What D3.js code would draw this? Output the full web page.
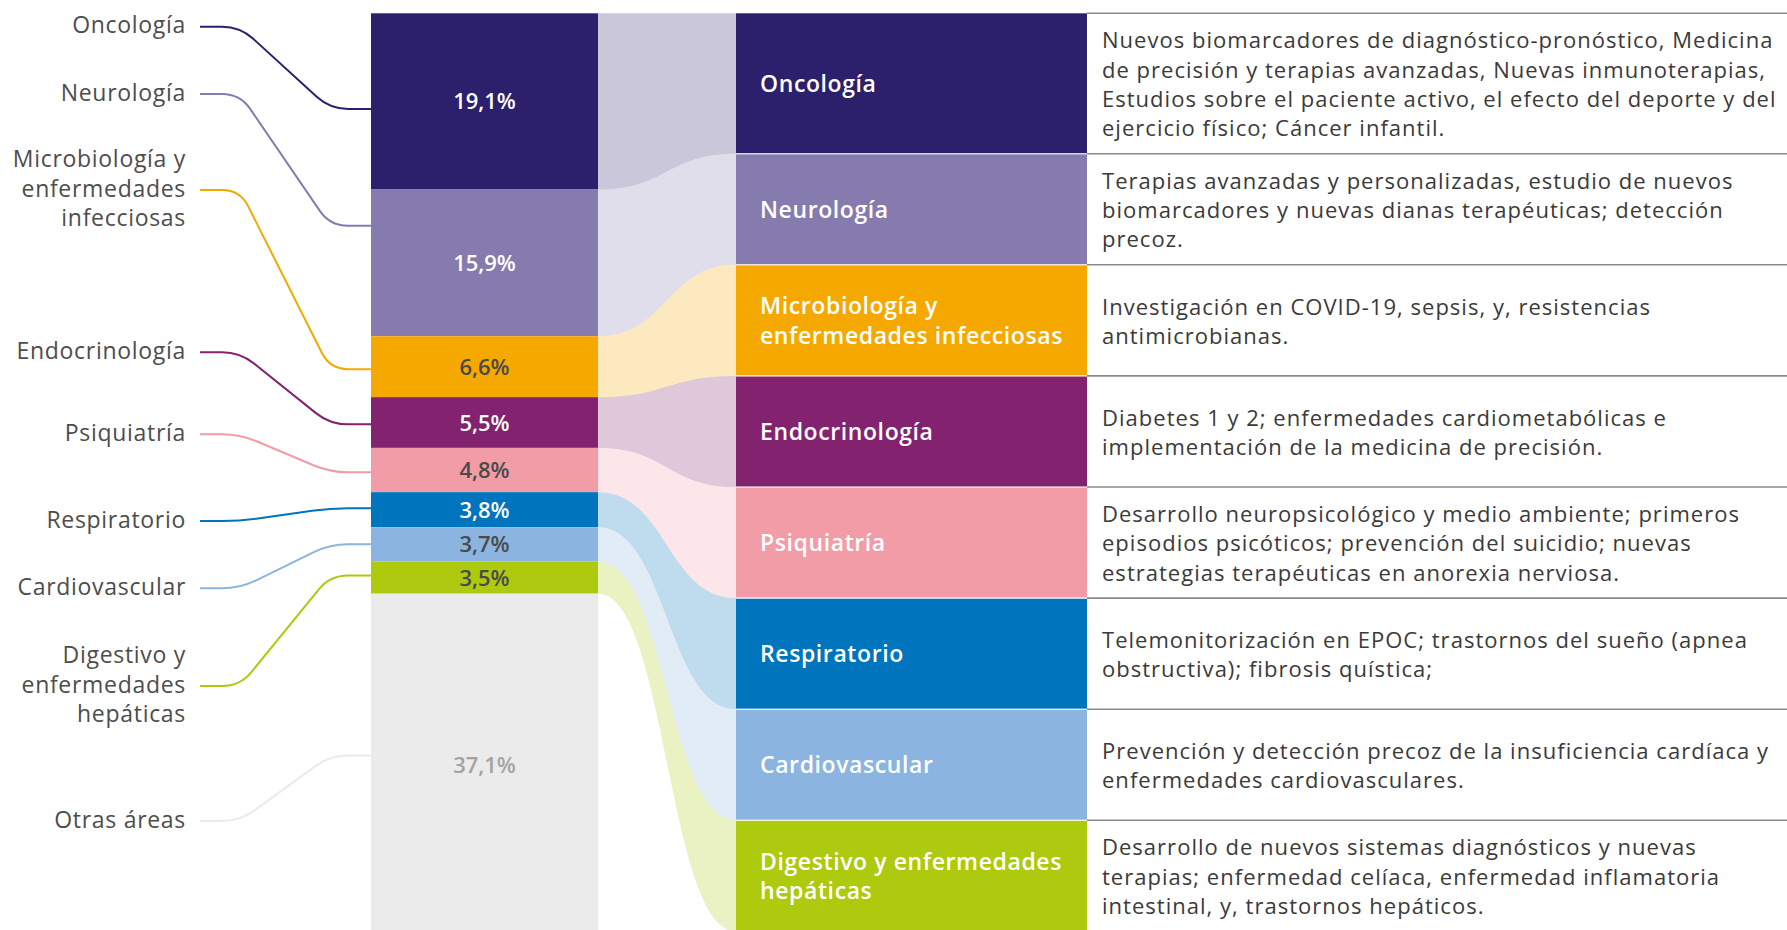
<!DOCTYPE html>
<html><head><meta charset="utf-8">
<script src="https://cdn.jsdelivr.net/npm/d3@7"></script>
<style>
body{margin:0;background:#fff;overflow:hidden;}
svg{display:block;font-family:"Open Sans","Noto Sans",sans-serif;}
</style>
</head><body>
<svg id="chart" width="1787" height="930"></svg>
<script>
// ---------- DATA ----------
const categories = ["Oncología","Neurología","Microbiología y enfermedades infecciosas","Endocrinología","Psiquiatría","Respiratorio","Cardiovascular","Digestivo y enfermedades hepáticas","Otras áreas"];
const shares = [19.1, 15.9, 6.6, 5.5, 4.8, 3.8, 3.7, 3.5, 37.1];
const shareLabels = ["19,1%","15,9%","6,6%","5,5%","4,8%","3,8%","3,7%","3,5%","37,1%"];
const colors = ["#2c1f6c","#867bae","#f5a800","#83226f","#f29ca8","#0074bc","#8bb4e1","#adca0e","#ebebeb"];
const shareLabelColors = ["#ffffff","#ffffff","#4a4a4a","#ffffff","#4a4a4a","#ffffff","#4a4a4a","#4a4a4a","#a3a3a3"];
const leftLabelLines = [["Oncología"],["Neurología"],["Microbiología y","enfermedades","infecciosas"],["Endocrinología"],["Psiquiatría"],["Respiratorio"],["Cardiovascular"],["Digestivo y","enfermedades","hepáticas"],["Otras áreas"]];
const boxLabelLines = [["Oncología"],["Neurología"],["Microbiología y","enfermedades infecciosas"],["Endocrinología"],["Psiquiatría"],["Respiratorio"],["Cardiovascular"],["Digestivo y enfermedades","hepáticas"]];
const descriptions = [
  ["Nuevos biomarcadores de diagnóstico-pronóstico, Medicina","de precisión y terapias avanzadas, Nuevas inmunoterapias,","Estudios sobre el paciente activo, el efecto del deporte y del","ejercicio físico; Cáncer infantil."],
  ["Terapias avanzadas y personalizadas, estudio de nuevos","biomarcadores y nuevas dianas terapéuticas; detección","precoz."],
  ["Investigación en COVID-19, sepsis, y, resistencias","antimicrobianas."],
  ["Diabetes 1 y 2; enfermedades cardiometabólicas e","implementación de la medicina de precisión."],
  ["Desarrollo neuropsicológico y medio ambiente; primeros","episodios psicóticos; prevención del suicidio; nuevas","estrategias terapéuticas en anorexia nerviosa."],
  ["Telemonitorización en EPOC; trastornos del sueño (apnea","obstructiva); fibrosis quística;"],
  ["Prevención y detección precoz de la insuficiencia cardíaca y","enfermedades cardiovasculares."],
  ["Desarrollo de nuevos sistemas diagnósticos y nuevas","terapias; enfermedad celíaca, enfermedad inflamatoria","intestinal, y, trastornos hepáticos."]
];

// ---------- LAYOUT ----------
const top0 = 13.3;
const barX0 = 371, barX1 = 598, boxX0 = 736, boxX1 = 1087, descX = 1102, W = 1787;
const leftLabelY = [26.7, 94, 190, 352.3, 434.3, 521, 588.3, 686, 821];
const anchorFrac = [0.543, 0.247, 0.54, 0.536, 0.55, 0.46, 0.5, 0.44, 0.473];
const lineH = 29.3, boxPad = 23.2;

const svg = d3.select("#chart");
const y = d3.scaleLinear().domain([0, 100]).range([top0, top0 + 922.7]);
const cum = [0, ...d3.cumsum(shares)];
const segs = shares.map((v, i) => ({i, v, y0: y(cum[i]), y1: y(cum[i + 1])}));

// right boxes
const boxH = descriptions.map(d => Math.max(d.length, 3) * lineH + boxPad);
const boxCum = [0, ...d3.cumsum(boxH)];
const boxes = boxH.map((h, i) => ({i, y0: top0 + boxCum[i], y1: top0 + boxCum[i + 1]}));

// flows
const xm = (barX1 + boxX0) / 2;
svg.append("g").selectAll("path").data(boxes).join("path")
  .attr("fill", d => colors[d.i]).attr("fill-opacity", 0.25)
  .attr("d", d => {
    const s = segs[d.i];
    return `M${barX1},${s.y0}C${xm},${s.y0} ${xm},${d.y0} ${boxX0},${d.y0}` +
      `L${boxX0},${d.y1}C${xm},${d.y1} ${xm},${s.y1} ${barX1},${s.y1}Z`;
  });

// left stacked bar
svg.append("g").selectAll("rect").data(segs).join("rect")
  .attr("x", barX0).attr("width", barX1 - barX0)
  .attr("y", d => d.y0).attr("height", d => d.y1 - d.y0)
  .attr("fill", d => colors[d.i]);

svg.append("g").selectAll("text").data(segs).join("text")
  .attr("x", (barX0 + barX1) / 2).attr("y", d => (d.y0 + d.y1) / 2 + 8)
  .attr("text-anchor", "middle").attr("font-size", 22).attr("font-weight", 600)
  .attr("fill", d => shareLabelColors[d.i])
  .text(d => shareLabels[d.i]);

// leader lines
function leader(y1, y2) {
  const pts = [[200, y1], [240, y1], [330, y2], [barX0, y2]];
  let d = `M${pts[0][0]},${pts[0][1]}`;
  for (let k = 1; k <= 2; k++) {
    const P = pts[k], A = pts[k - 1], B = pts[k + 1];
    const l1 = Math.hypot(P[0] - A[0], P[1] - A[1]), l2 = Math.hypot(B[0] - P[0], B[1] - P[1]);
    const r = Math.min(18, l1 / 2, l2 / 2);
    const s = [P[0] - (P[0] - A[0]) / l1 * r, P[1] - (P[1] - A[1]) / l1 * r];
    const e = [P[0] + (B[0] - P[0]) / l2 * r, P[1] + (B[1] - P[1]) / l2 * r];
    d += `L${s[0]},${s[1]}Q${P[0]},${P[1]} ${e[0]},${e[1]}`;
  }
  return d + `L${pts[3][0]},${pts[3][1]}`;
}
svg.append("g").selectAll("path").data(segs).join("path")
  .attr("fill", "none").attr("stroke", d => colors[d.i]).attr("stroke-width", 2)
  .attr("d", d => leader(leftLabelY[d.i], d.y0 + anchorFrac[d.i] * (d.y1 - d.y0)));

// left labels
svg.append("g").selectAll("text").data(segs).join("text")
  .attr("text-anchor", "end").attr("font-size", 23).attr("letter-spacing", 0.7).attr("fill", "#4d4d4d")
  .each(function(d) {
    const lines = leftLabelLines[d.i], n = lines.length;
    d3.select(this).selectAll("tspan").data(lines).join("tspan")
      .attr("x", 186)
      .attr("y", (t, k) => leftLabelY[d.i] + (k - (n - 1) / 2) * lineH + 6.5)
      .text(t => t);
  });

// boxes
svg.append("g").selectAll("rect").data(boxes).join("rect")
  .attr("x", boxX0).attr("width", boxX1 - boxX0)
  .attr("y", d => d.y0).attr("height", d => d.y1 - d.y0)
  .attr("fill", d => colors[d.i]);

// separators
const sep = svg.append("g");
sep.selectAll("line.d").data(boxes).join("line").attr("class", "d")
  .attr("x1", boxX1).attr("x2", W).attr("y1", d => d.y0).attr("y2", d => d.y0)
  .attr("stroke", "#8a8a8a").attr("stroke-width", 1.6);
sep.selectAll("line.b").data(boxes.slice(1)).join("line").attr("class", "b")
  .attr("x1", boxX0).attr("x2", boxX1).attr("y1", d => d.y0).attr("y2", d => d.y0)
  .attr("stroke", "#ffffff").attr("stroke-opacity", 0.7).attr("stroke-width", 1.6);

// box labels
svg.append("g").selectAll("text").data(boxes).join("text")
  .attr("font-size", 23).attr("font-weight", 600).attr("letter-spacing", 0.6).attr("fill", "#ffffff")
  .each(function(d) {
    const lines = boxLabelLines[d.i], n = lines.length, c = (d.y0 + d.y1) / 2;
    d3.select(this).selectAll("tspan").data(lines).join("tspan")
      .attr("x", 760).attr("y", (t, k) => c + (k - (n - 1) / 2) * lineH + 8.5).text(t => t);
  });

// descriptions
svg.append("g").selectAll("text").data(boxes).join("text")
  .attr("font-size", 22).attr("letter-spacing", 1.02).attr("fill", "#3a3a3a")
  .each(function(d) {
    const lines = descriptions[d.i], n = lines.length, c = (d.y0 + d.y1) / 2;
    d3.select(this).selectAll("tspan").data(lines).join("tspan")
      .attr("x", descX).attr("y", (t, k) => c + (k - (n - 1) / 2) * lineH + 8.8).text(t => t);
  });
</script>
</body></html>
